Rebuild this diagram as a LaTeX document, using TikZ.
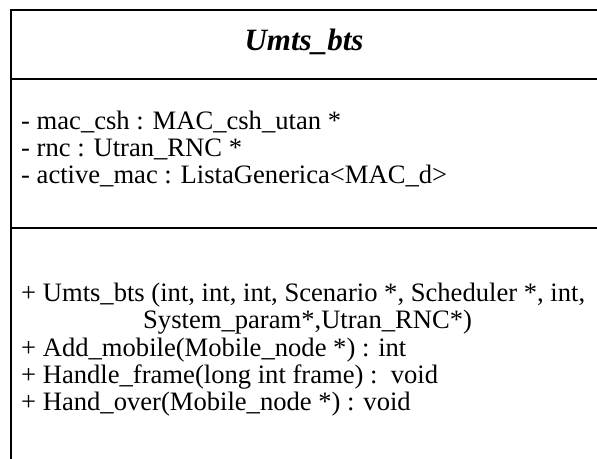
\documentclass[tikz,border=0pt]{standalone}
\usepackage{fontspec}
\setmainfont{Liberation Serif}
\begin{document}
\begin{tikzpicture}[x=1pt,y=-1pt,
  frame/.style={line width=2pt},
  member/.style={anchor=base west,inner sep=0pt,font=\fontsize{26.6}{27}\selectfont},
  classname/.style={anchor=base,inner sep=0pt,font=\fontsize{31}{31}\selectfont\bfseries\itshape}]
  \useasboundingbox (0,0) rectangle (597,458);
  \clip (0,0) rectangle (597,458);
  % class box outline and compartment separators
  \draw[frame] (11,460) -- (11,10) -- (600,10);
  \draw[frame] (10,79) -- (600,79);
  \draw[frame] (10,228) -- (600,228);
  % class name
  \node[classname] (title) at (304,50) {Umts\_bts};
  % attributes
  \node[member] (a1) at (21,129) {- mac\_csh : MAC\_csh\_utan *};
  \node[member] (a2) at (21,156) {- rnc : Utran\_RNC *};
  \node[member] (a3) at (21,183) {- active\_mac : ListaGenerica<MAC\_d>};
  % operations
  \node[member] (m1) at (21,301) {+ Umts\_bts (int, int, int, Scenario *, Scheduler *, int,};
  \node[member] (m1b) at (143,328) {System\_param*,Utran\_RNC*)};
  \node[member] (m2) at (21,356) {+ Add\_mobile(Mobile\_node *) : int};
  \node[member] (m3) at (21,383) {+ Handle\_frame(long int frame) :\ \ void};
  \node[member] (m4) at (21,410) {+ Hand\_over(Mobile\_node *) : void};
\end{tikzpicture}
\end{document}
